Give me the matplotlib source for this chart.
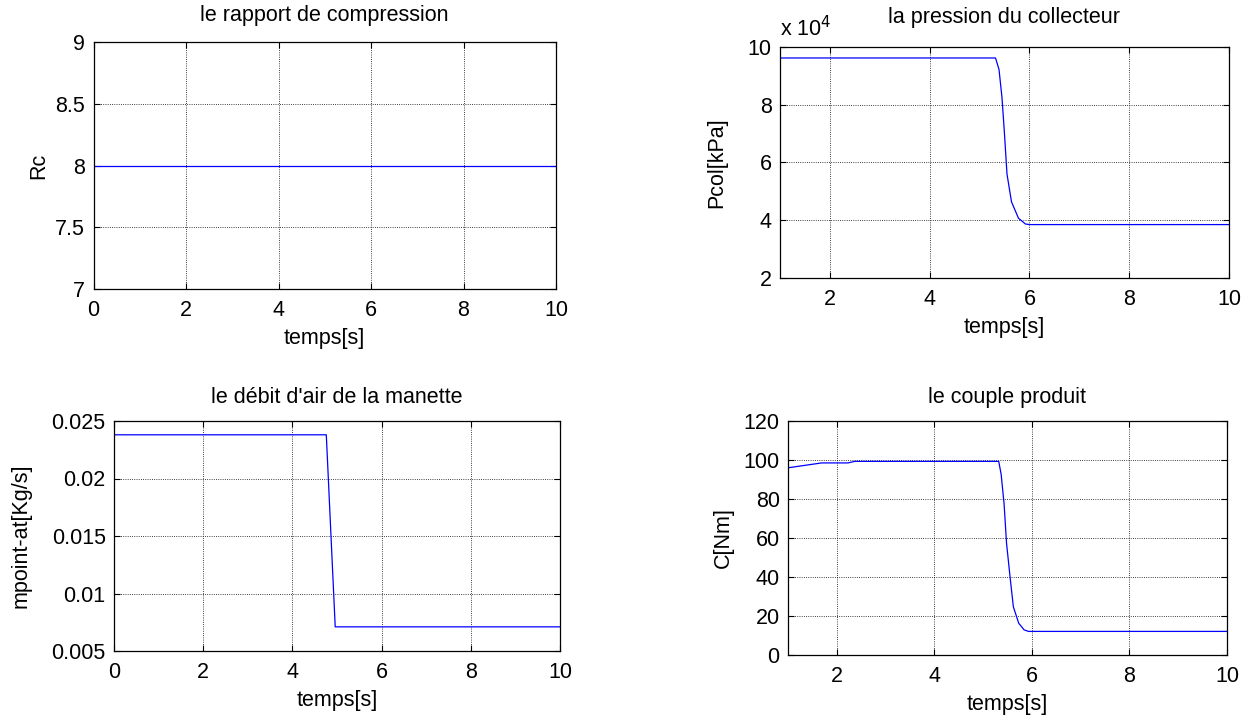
import matplotlib
matplotlib.use("Agg")
import matplotlib.pyplot as plt
from matplotlib.ticker import FuncFormatter

plt.rcParams['font.family'] = ['Liberation Sans', 'DejaVu Sans']
plt.rcParams['font.size'] = 15.5

# le rapport de compression
t_rc = [0, 10]
rc = [8, 8]

# la pression du collecteur (Pa)
t_pcol = [1.0, 5.32, 5.39, 5.45, 5.50, 5.55, 5.64, 5.78, 5.92, 6.0, 10.0]
pcol = [96200, 96200, 92200, 82400, 69800, 56000, 46400, 40700, 38700, 38500, 38500]

# le debit d'air de la manette
t_mdot = [0, 4.76, 4.96, 10]
mdot = [0.0238, 0.0238, 0.0071, 0.0071]

# le couple produit
t_c = [1.0, 1.69, 2.23, 2.37, 5.32, 5.37, 5.43, 5.48, 5.55, 5.62, 5.73, 5.84, 5.93, 10.0]
couple = [96.0, 98.5, 98.5, 99.3, 99.3, 92.6, 77.5, 57.4, 40.6, 24.7, 16.3, 12.9, 12.1, 12.1]

W, H = 1248, 717
fig = plt.figure(figsize=(W / 100, H / 100), dpi=100)


def make_axes(l, r, t, b):
    return fig.add_axes([l / W, 1 - b / H, (r - l) / W, (b - t) / H])


def style(ax):
    ax.grid(True, color='k', linestyle=':', linewidth=0.6)
    ax.tick_params(direction='in', top=True, right=True, length=4, width=0.8)
    ax.tick_params(axis='x', pad=8)
    ax.tick_params(axis='y', pad=6)
    for s in ax.spines.values():
        s.set_linewidth(0.9)
    ax.set_xlabel('temps[s]', labelpad=5)
    ax.yaxis.set_major_formatter(FuncFormatter(lambda v, p: '%g' % v))


ax1 = make_axes(93.5, 556, 42, 289)
ax1.plot(t_rc, rc, color='b', linewidth=0.9)
ax1.set_xlim(0, 10)
ax1.set_ylim(7, 9)
ax1.set_yticks([7, 7.5, 8, 8.5, 9])
ax1.set_title('le rapport de compression', fontsize=15.5, pad=15)
ax1.set_ylabel('Rc', labelpad=4)
style(ax1)

ax2 = make_axes(780, 1229, 47, 278)
ax2.plot(t_pcol, pcol, color='b', linewidth=0.9)
ax2.set_xlim(1, 10)
ax2.set_ylim(20000, 100000)
ax2.set_yticks([20000, 40000, 60000, 80000, 100000])
ax2.set_xticks([2, 4, 6, 8, 10])
ax2.set_title('la pression du collecteur', fontsize=15.5, pad=17)
ax2.set_ylabel('Pcol[kPa]', labelpad=15)
style(ax2)
ax2.yaxis.set_major_formatter(FuncFormatter(lambda v, p: '%g' % (v / 1e4)))
ax2.text(0, 1.025, r'x 10$^{4}$', transform=ax2.transAxes, ha='left', va='bottom', fontsize=15.5)

ax3 = make_axes(114, 560, 421, 651)
ax3.plot(t_mdot, mdot, color='b', linewidth=0.9)
ax3.set_xlim(0, 10)
ax3.set_ylim(0.005, 0.025)
ax3.set_yticks([0.005, 0.01, 0.015, 0.02, 0.025])
ax3.set_title("le débit d'air de la manette", fontsize=15.5, pad=13)
ax3.set_ylabel('mpoint-at[Kg/s]', labelpad=14)
style(ax3)

ax4 = make_axes(788, 1227, 421, 655)
ax4.plot(t_c, couple, color='b', linewidth=0.9)
ax4.set_xlim(1, 10)
ax4.set_ylim(0, 120)
ax4.set_yticks([0, 20, 40, 60, 80, 100, 120])
ax4.set_xticks([2, 4, 6, 8, 10])
ax4.set_title('le couple produit', fontsize=15.5, pad=13)
ax4.set_ylabel('C[Nm]', labelpad=7)
style(ax4)

fig.savefig('out.png', dpi=100)
